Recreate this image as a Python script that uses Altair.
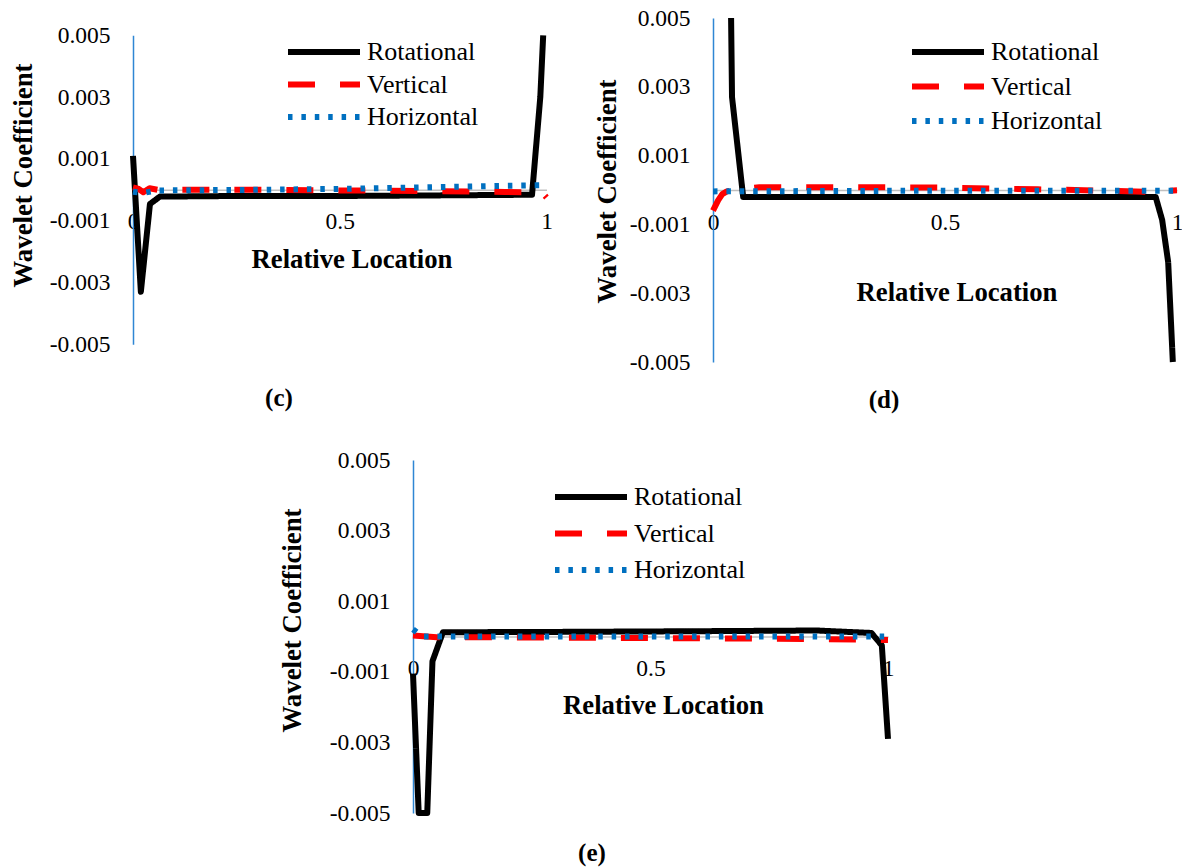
import altair as alt
import pandas as pd

SERIF = "Liberation Serif"
SERIES = ["Rotational", "Vertical", "Horizontal"]
COLORS = ["#000000", "#FF0000", "#0070C0"]
DASHES = [[1, 0], [27, 25], [4.5, 8.9]]
Y_TICKS = [-0.005, -0.003, -0.001, 0.001, 0.003, 0.005]
X_TICKS = [0, 0.5, 1]
CAPTIONS = ["(c)", "(d)", "(e)"]

# ---- panel (c)
c_rot_x = [0.0, 0.019, 0.041, 0.065, 0.25, 0.5, 0.75, 0.965, 0.985, 0.992]
c_rot_y = [0.0011, -0.0033, -0.00046, -0.00022, -0.0002, -0.0002, -0.00018, -0.00016, 0.0030, 0.005]
c_ver_x = [0.0, 0.012, 0.025, 0.04, 0.06, 0.3, 0.5, 0.7, 0.9, 0.97, 0.99, 1.0]
c_ver_y = [0.00008, 0.00004, -0.00008, 0.00005, 0.0, 0.0, -0.00002, -0.00004, -0.00007, -0.00008, -0.0001, -0.00025]
c_hor_x = [0.0, 0.025, 0.06, 0.3, 0.5, 0.7, 0.9, 1.0]
c_hor_y = [-0.00006, -0.0001, -0.00002, 0.0, 0.00003, 0.00008, 0.00013, 0.00015]
c_cap = (0.353, -0.00674)

# ---- panel (d)
d_rot_x = [0.039, 0.041, 0.065, 0.3, 0.6, 0.954, 0.968, 0.981, 0.991]
d_rot_y = [0.005, 0.0027, -0.0002, -0.0002, -0.0002, -0.0002, -0.00087, -0.0021, -0.005]
d_ver_x = [0.0, 0.011, 0.02, 0.03, 0.05, 0.1, 0.3, 0.5, 0.7, 0.85, 0.93, 1.0]
d_ver_y = [-0.0006, -0.0003, -0.00012, -0.00004, 0.00002, 0.00008, 0.00008, 0.00007, 0.00002, -0.00002, -0.00005, -0.00001]
d_hor_x = [0.0, 0.5, 1.0]
d_hor_y = [-0.00004, -0.00002, -0.00002]
d_cap = (0.3685, -0.00611)

# ---- panel (e)
e_rot_x = [0.0, 0.012, 0.03, 0.041, 0.063, 0.3, 0.6, 0.85, 0.965, 0.987, 1.0]
e_rot_y = [-0.00105, -0.005, -0.005, -0.0007, 0.00012, 0.00013, 0.00015, 0.00017, 0.0001, -0.00025, -0.0029]
e_ver_x = [0.0, 0.05, 0.3, 0.6, 0.85, 1.0]
e_ver_y = [0.00003, -0.00002, -0.00003, -0.00005, -0.00007, -0.0001]
e_hor_x = [0.0, 0.02, 0.5, 1.0]
e_hor_y = [0.0002, 0.0, 0.0, 0.0]
e_cap = (0.3768, -0.00613)

FULL_W, FULL_H = 1182, 868


def panel_df(pairs):
    rows = []
    for name, (xs, ys) in zip(SERIES, pairs):
        for i, (x, y) in enumerate(zip(xs, ys)):
            rows.append({"series": name, "x": x, "y": y, "order": i})
    return pd.DataFrame(rows)


def panel(df, caption, cap_xy, xr, yr, zero_y, leg_x, leg_y, row_pad,
          yt_x, yt_y, xt_x, xt_y):
    legend = alt.Legend(
        title=None, orient="none", legendX=leg_x, legendY=leg_y,
        symbolType="M-3,0H3", symbolSize=24 * 24, symbolStrokeWidth=6,
        labelFont=SERIF, labelFontSize=26, labelColor="black",
        labelOffset=28, rowPadding=row_pad, padding=0,
    )
    xscale = alt.Scale(domain=[0, 1], range=xr, nice=False, zero=False)
    yscale = alt.Scale(domain=[-0.005, 0.005], range=yr, nice=False, zero=False)
    xaxis = alt.Axis(orient="bottom", offset=zero_y - FULL_H,
                     values=X_TICKS, labelExpr="datum.value",
                     ticks=False, tickSize=0, grid=False,
                     domainColor="#BFBFBF", domainWidth=1.5,
                     labelFont=SERIF, labelFontSize=23.5, labelColor="black",
                     labelPadding=20, labelFlush=False, labelOverlap=False,
                     title="Relative Location", titleFont=SERIF,
                     titleFontSize=26.7, titleFontWeight="bold",
                     titleColor="black", titleX=xt_x, titleY=xt_y,
                     titleBaseline="alphabetic", titleAlign="center")
    yaxis = alt.Axis(orient="left", offset=-xr[0], values=Y_TICKS,
                     labelExpr="(datum.value < 0 ? '-' : '') + format(abs(datum.value), '.3f')",
                     ticks=False, tickSize=0,
                     grid=False, domainColor="#2F86D4", domainWidth=1.5,
                     labelFont=SERIF, labelFontSize=23.5, labelColor="black",
                     labelPadding=23, labelOverlap=False,
                     title="Wavelet Coefficient", titleFont=SERIF,
                     titleFontSize=26.8, titleFontWeight="bold",
                     titleColor="black", titleX=yt_x, titleY=yt_y,
                     titleBaseline="alphabetic", titleAlign="center",
                     titleAngle=270)
    lines = alt.Chart(df).mark_line(
        strokeWidth=6, strokeCap="butt", strokeJoin="round"
    ).encode(
        x=alt.X("x:Q", scale=xscale, axis=xaxis),
        y=alt.Y("y:Q", scale=yscale, axis=yaxis),
        color=alt.Color("series:N", scale=alt.Scale(domain=SERIES, range=COLORS),
                        legend=legend),
        strokeDash=alt.StrokeDash("series:N", scale=alt.Scale(domain=SERIES, range=DASHES),
                                  legend=legend),
        order="order:Q",
    )
    cap_df = pd.DataFrame({"x": [cap_xy[0]], "y": [cap_xy[1]], "label": [caption]})
    cap = alt.Chart(cap_df).mark_text(
        font=SERIF, fontSize=25, fontWeight="bold", color="black",
        align="center", baseline="middle"
    ).encode(
        x=alt.X("x:Q", scale=xscale, axis=xaxis),
        y=alt.Y("y:Q", scale=yscale, axis=yaxis),
        text="label:N",
    )
    return alt.layer(lines, cap)


pc = panel(panel_df([(c_rot_x, c_rot_y), (c_ver_x, c_ver_y), (c_hor_x, c_hor_y)]),
           CAPTIONS[0], c_cap, [133, 546.5], [344.3, 35.3], 189.8,
           309, 37, 4.5, -102, 175, 351.5, 78)
pd_ = panel(panel_df([(d_rot_x, d_rot_y), (d_ver_x, d_ver_y), (d_hor_x, d_hor_y)]),
            CAPTIONS[1], d_cap, [713, 1177], [362, 18], 190,
            933, 37, 6.5, -98, 191, 956.5, 110.7)
pe = panel(panel_df([(e_rot_x, e_rot_y), (e_ver_x, e_ver_y), (e_hor_x, e_hor_y)]),
           CAPTIONS[2], e_cap, [413, 888], [813, 460], 636.5,
           576, 482, 8.5, -113, 620, 663, 77)

chart = alt.layer(pc, pd_, pe).resolve_scale(
    x="independent", y="independent", color="independent", strokeDash="independent"
).resolve_axis(x="independent", y="independent").resolve_legend(
    color="independent", strokeDash="independent"
).properties(
    width=FULL_W, height=FULL_H, padding=0, autosize="none", background="white"
).configure_view(stroke=None)

chart.save("out.html", embed_options={"renderer": "svg", "actions": False})
